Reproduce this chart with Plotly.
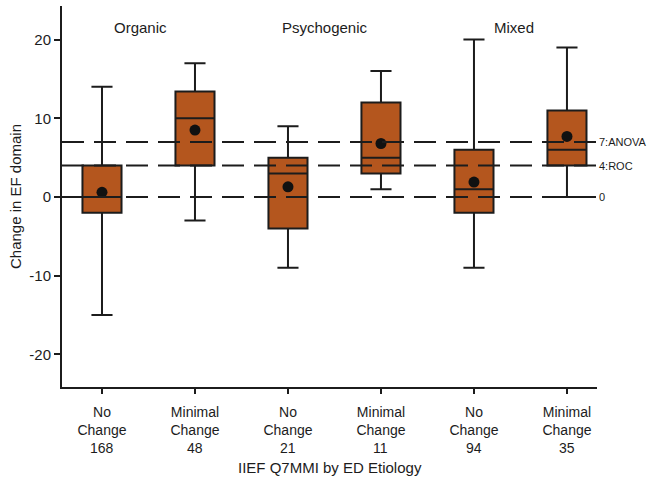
import plotly.graph_objects as go

# ---- data ----
tick_labels = ["No<br>Change", "Minimal<br>Change", "No<br>Change",
               "Minimal<br>Change", "No<br>Change", "Minimal<br>Change"]
counts = ["168", "48", "21", "11", "94", "35"]
groups = ["Organic", "Psychogenic", "Mixed"]
lower_whisker = [-15, -3, -9, 1, -9, 0]
q1_vals = [-2, 4, -4, 3, -2, 4]
median_vals = [0, 10, 3, 5, 1, 6]
q3_vals = [4, 13.4, 5, 12, 6, 11]
upper_whisker = [14, 17, 9, 16, 20, 19]
mean_vals = [0.6, 8.5, 1.3, 6.8, 1.9, 7.7]
ref_values = [7, 4, 0]
ref_labels = ["7:ANOVA", "4:ROC", "0"]
y_ticks = [-20, -10, 0, 10, 20]
y_tick_text = ["-20", "-10", "0", "10", "20"]

positions = list(range(len(tick_labels)))
font_family = "Liberation Sans, Arial, sans-serif"
box_fill = "#B4561E"
ink = "#1c1c1c"

fig = go.Figure()
fig.add_trace(go.Box(
    x=positions,
    q1=q1_vals, median=median_vals, q3=q3_vals,
    lowerfence=lower_whisker, upperfence=upper_whisker,
    fillcolor=box_fill,
    line=dict(color=ink, width=2),
    width=0.42,
    whiskerwidth=0.54,
    boxpoints=False,
    hoverinfo="skip",
    showlegend=False,
))
fig.add_trace(go.Scatter(
    x=positions, y=mean_vals, mode="markers",
    marker=dict(color="#111111", size=11, symbol="circle"),
    hoverinfo="skip", showlegend=False,
))

for v, lab in zip(ref_values, ref_labels):
    fig.add_shape(type="line", xref="paper", yref="y", x0=0, x1=1, y0=v, y1=v,
                  line=dict(color=ink, width=2, dash="22px,10px"), layer="above")
    fig.add_annotation(xref="paper", yref="y", x=1.0, y=v, text=lab,
                       showarrow=False, xanchor="left", yanchor="middle", xshift=0,
                       font=dict(family=font_family, size=11, color=ink))

group_x = [0.41, 2.40, 4.43]
for gx, g in zip(group_x, groups):
    fig.add_annotation(x=gx, y=21.6, xref="x", yref="y", text=g, showarrow=False,
                       xanchor="center", yanchor="middle",
                       font=dict(family=font_family, size=15, color=ink))

for p, c in zip(positions, counts):
    fig.add_annotation(x=p, y=-0.16, xref="x", yref="paper", text=c, showarrow=False,
                       xanchor="center", yanchor="middle",
                       font=dict(family=font_family, size=14, color=ink))

fig.add_annotation(x=0.5, y=-0.21, xref="paper", yref="paper",
                   text="IIEF Q7MMI by ED Etiology", showarrow=False,
                   xanchor="center", yanchor="middle",
                   font=dict(family=font_family, size=15, color=ink))

fig.update_layout(
    width=649, height=479,
    margin=dict(l=62, r=52, t=6, b=92),
    paper_bgcolor="white", plot_bgcolor="white",
    font=dict(family=font_family, size=15, color=ink),
    xaxis=dict(
        range=[-0.43, 5.323], tickmode="array", tickvals=positions, ticktext=tick_labels,
        showgrid=False, zeroline=False, showline=True, linecolor=ink, linewidth=2,
        ticks="outside", ticklen=5, tickwidth=1.5, tickcolor=ink,
        tickfont=dict(size=14), ticklabelstandoff=6,
    ),
    yaxis=dict(
        range=[-24.14, 24.27], tickmode="array", tickvals=y_ticks, ticktext=y_tick_text,
        showgrid=False, zeroline=False, showline=True, linecolor=ink, linewidth=2,
        ticks="outside", ticklen=6, tickwidth=1.5, tickcolor=ink,
        tickfont=dict(size=15),
        title=dict(text="Change in EF domain", font=dict(size=15), standoff=4),
    ),
)

fig.write_html("out.html",
               config={"displayModeBar": False},
               post_script="document.body.style.margin='0';document.body.style.padding='0';")
